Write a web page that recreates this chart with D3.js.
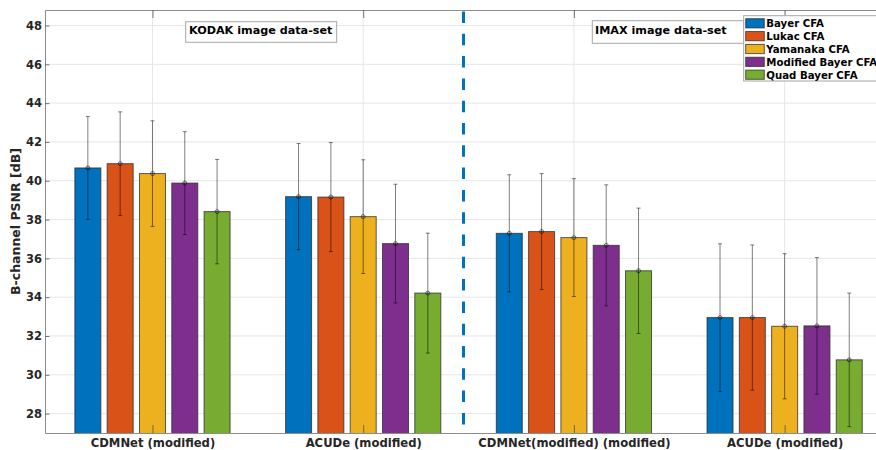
<!DOCTYPE html>
<html>
<head>
<meta charset="utf-8">
<script src="https://cdn.jsdelivr.net/npm/d3@7"></script>
<style>
  body { margin: 0; background: #fff; }
  svg { display: block; font-family: "DejaVu Sans", sans-serif; font-weight: bold; }
</style>
</head>
<body>
<svg id="chart" width="876" height="450"></svg>
<script>
// Method / dataset groups along the x axis
const groups = ["CDMNet (modified)", "ACUDe (modified)", "CDMNet(modified) (modified)", "ACUDe (modified)"];
// Colour filter arrays compared in each group
const cfaNames = ["Bayer CFA", "Lukac CFA", "Yamanaka CFA", "Modified Bayer CFA", "Quad Bayer CFA"];
const cfaColors = ["#0072BD", "#D95319", "#EDB120", "#7E2F8E", "#77AC30"];

// Mean B-channel PSNR [dB] per CFA, one value per group
const meanBayer    = [40.66, 39.18, 37.29, 32.95];
const meanLukac    = [40.88, 39.16, 37.38, 32.95];
const meanYamanaka = [40.37, 38.15, 37.07, 32.50];
const meanModBayer = [39.88, 36.76, 36.67, 32.52];
const meanQuad     = [38.41, 34.21, 35.36, 30.77];

// Standard deviation of PSNR [dB] per CFA, one value per group
const stdBayer    = [2.65, 2.74, 3.02, 3.80];
const stdLukac    = [2.67, 2.81, 2.99, 3.74];
const stdYamanaka = [2.72, 2.93, 3.04, 3.74];
const stdModBayer = [2.65, 3.06, 3.12, 3.52];
const stdQuad     = [2.69, 3.09, 3.23, 3.44];

const yTicks = [28, 30, 32, 34, 36, 38, 40, 42, 44, 46, 48];
const datasetNotes = ["KODAK image data-set", "IMAX image data-set"];
const yTitle = "B-channel PSNR [dB]";

(function draw() {
  const means = [meanBayer, meanLukac, meanYamanaka, meanModBayer, meanQuad];
  const stds  = [stdBayer, stdLukac, stdYamanaka, stdModBayer, stdQuad];

  const svg = d3.select("#chart");
  const pLeft = 45, pTop = 10, pBottom = 433, pRight = 890;

  const x = d3.scaleLinear().domain([0.49, 4.5]).range([pLeft, pRight]);
  const y = d3.scaleLinear().domain([27, 48.8]).range([pBottom, pTop]);
  const unit = x(2) - x(1);
  const xSub = d3.scaleBand()
    .domain(d3.range(cfaNames.length))
    .range([-0.3833 * unit, 0.3833 * unit])
    .paddingInner(0.195)
    .paddingOuter(0.0975);

  svg.append("defs").append("clipPath").attr("id", "plotClip")
    .append("rect").attr("x", pLeft).attr("y", pTop)
    .attr("width", pRight - pLeft).attr("height", pBottom - pTop);

  const plot = svg.append("g").attr("clip-path", "url(#plotClip)");

  // grid
  plot.append("g").selectAll("line").data(yTicks).join("line")
    .attr("x1", pLeft).attr("x2", pRight)
    .attr("y1", d => y(d)).attr("y2", d => y(d))
    .attr("stroke", "#e6e6e6").attr("stroke-width", 1);
  plot.append("g").selectAll("line").data(d3.range(1, groups.length + 1)).join("line")
    .attr("x1", d => x(d)).attr("x2", d => x(d))
    .attr("y1", pTop).attr("y2", pBottom)
    .attr("stroke", "#e6e6e6").attr("stroke-width", 1);

  // bars
  const records = [];
  means.forEach((series, s) => series.forEach((v, g) => {
    records.push({ s, g: g + 1, v, e: stds[s][g] });
  }));

  plot.append("g").selectAll("rect").data(records).join("rect")
    .attr("x", d => x(d.g) + xSub(d.s))
    .attr("width", xSub.bandwidth())
    .attr("y", d => y(d.v))
    .attr("height", d => pBottom - y(d.v) + 2)
    .attr("fill", d => cfaColors[d.s])
    .attr("stroke", "#2a2a2a").attr("stroke-opacity", 0.75).attr("stroke-width", 1);

  // error bars
  const eb = plot.append("g").attr("stroke", "#000").attr("stroke-opacity", 0.5)
    .attr("stroke-width", 1).attr("fill", "none");
  const cx = d => x(d.g) + xSub(d.s) + xSub.bandwidth() / 2;
  eb.append("g").selectAll("line").data(records).join("line")
    .attr("x1", cx).attr("x2", cx)
    .attr("y1", d => y(d.v - d.e)).attr("y2", d => y(d.v + d.e));
  eb.append("g").selectAll("line").data(records).join("line")
    .attr("x1", d => cx(d) - 2).attr("x2", d => cx(d) + 2)
    .attr("y1", d => y(d.v + d.e)).attr("y2", d => y(d.v + d.e));
  eb.append("g").selectAll("line").data(records).join("line")
    .attr("x1", d => cx(d) - 2).attr("x2", d => cx(d) + 2)
    .attr("y1", d => y(d.v - d.e)).attr("y2", d => y(d.v - d.e));
  eb.append("g").selectAll("circle").data(records).join("circle")
    .attr("cx", cx).attr("cy", d => y(d.v)).attr("r", 2);

  // separator between the two datasets
  plot.append("line")
    .attr("x1", x(2.476)).attr("x2", x(2.476))
    .attr("y1", pTop + 1.5).attr("y2", pBottom)
    .attr("stroke", "#0072BD").attr("stroke-width", 3)
    .attr("stroke-dasharray", "11.5,10.8");

  // axes
  const axisColor = "#8c8c8c";
  const yAxis = svg.append("g").attr("transform", `translate(${pLeft},0)`)
    .call(d3.axisLeft(y).tickValues(yTicks).tickSize(-4.5).tickSizeOuter(0).tickPadding(3));
  yAxis.selectAll("text").attr("fill", "#262626").style("font-size", "11.5px")
    .style("font-family", "DejaVu Sans").style("font-weight", "bold");

  const xAxis = svg.append("g").attr("transform", `translate(0,${pBottom})`)
    .call(d3.axisBottom(x).tickValues([1, 2, 3, 4]).tickFormat(i => groups[i - 1])
      .tickSize(-8).tickSizeOuter(0));
  xAxis.selectAll("text").attr("fill", "#262626").attr("dy", 0).attr("y", 14)
    .style("font-size", "11.6px").style("font-family", "DejaVu Sans").style("font-weight", "bold");

  const topAxis = svg.append("g").attr("transform", `translate(0,${pTop})`)
    .call(d3.axisTop(x).tickValues([1, 2, 3, 4]).tickFormat("").tickSize(-8).tickSizeOuter(0));

  [yAxis, xAxis, topAxis].forEach(a => {
    a.select(".domain").attr("stroke", axisColor);
    a.selectAll(".tick line").attr("stroke", "#555").attr("stroke-opacity", 0.8);
  });

  // y-axis title
  svg.append("text")
    .attr("transform", `translate(19.5,${(pTop + pBottom) / 2}) rotate(-90)`)
    .attr("text-anchor", "middle")
    .attr("fill", "#262626").style("font-size", "12.5px")
    .text(yTitle);

  // dataset annotation boxes
  const notes = [
    { text: datasetNotes[0], bx: 185.7, by: 21.7, bw: 151, bh: 20.6, tx: 189, ty: 33.5 },
    { text: datasetNotes[1], bx: 592.3, by: 20.7, bw: 151.7, bh: 22.6, tx: 595, ty: 34.3 }
  ];
  const noteG = svg.append("g");
  noteG.selectAll("rect").data(notes).join("rect")
    .attr("x", d => d.bx).attr("y", d => d.by).attr("width", d => d.bw).attr("height", d => d.bh)
    .attr("fill", "#fff").attr("stroke", "#a6a6a6").attr("stroke-width", 1);
  noteG.selectAll("text").data(notes).join("text")
    .attr("x", d => d.tx).attr("y", d => d.ty)
    .attr("fill", "#000").style("font-size", "11.2px")
    .text(d => d.text);

  // legend
  const lg = svg.append("g");
  lg.append("rect").attr("x", 743.7).attr("y", 15.7).attr("width", 200).attr("height", 65.3)
    .attr("fill", "#fff").attr("stroke", "#a6a6a6").attr("stroke-width", 1);
  const rowY = d3.scaleLinear().domain([0, 4]).range([23.3, 74.7]);
  const items = lg.selectAll("g").data(cfaNames).join("g")
    .attr("transform", (d, i) => `translate(0,${rowY(i)})`);
  items.append("rect").attr("x", 745.7).attr("y", -4.6).attr("width", 18.6).attr("height", 9.2)
    .attr("fill", (d, i) => cfaColors[i])
    .attr("stroke", "#2a2a2a").attr("stroke-opacity", 0.75).attr("stroke-width", 1);
  items.append("text").attr("x", 766.3).attr("y", 3.8)
    .attr("fill", "#000").style("font-size", "10.2px")
    .text(d => d);
})();
</script>
</body>
</html>
